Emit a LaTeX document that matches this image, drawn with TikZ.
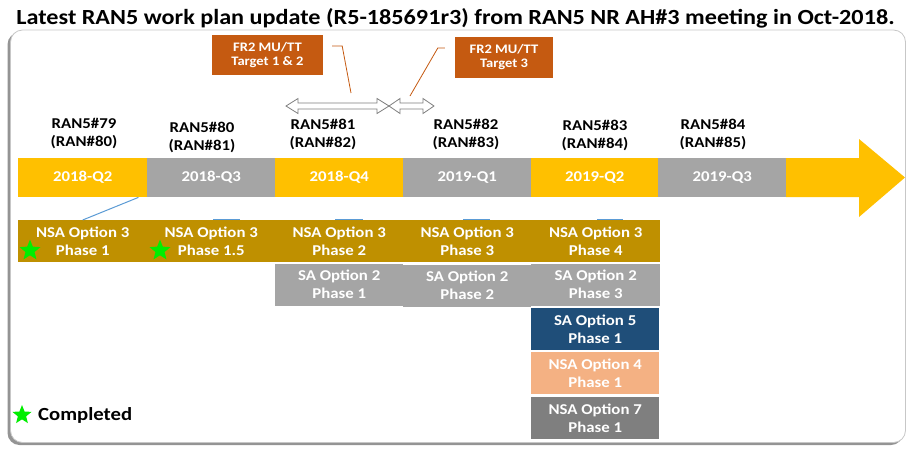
\documentclass[tikz,border=0pt]{standalone}
\usepackage{fontspec}
\setmainfont{Carlito}[FakeStretch=1.12]
\usetikzlibrary{shapes.geometric}

\definecolor{qyellow}{HTML}{FFC000}
\definecolor{qgray}{HTML}{A5A5A5}
\definecolor{olive}{HTML}{BF9000}
\definecolor{rust}{HTML}{C55A11}
\definecolor{navyfive}{HTML}{1F4E79}
\definecolor{peach}{HTML}{F4B183}
\definecolor{dgray}{HTML}{7F7F7F}
\definecolor{linkblue}{HTML}{5B9BD5}
\definecolor{stargreen}{HTML}{00EE00}

\begin{document}
\begin{tikzpicture}[x=1pt,y=-1pt,
  every node/.style={font=\bfseries},
  seg/.style={rectangle, anchor=north west, inner sep=0pt, minimum height=39pt,
    text=white, font=\bfseries\fontsize{15}{18}\selectfont},
  item/.style={rectangle, anchor=north west, inner sep=0pt, minimum height=42pt,
    align=center, text=white, font=\bfseries\fontsize{15}{18}\selectfont},
  meet/.style={align=center, text=black, font=\bfseries\fontsize{15}{18}\selectfont},
  target/.style={rectangle, fill=rust, inner sep=0pt, align=center, text=white,
    font=\bfseries\fontsize{13}{14}\selectfont},
  span/.style={draw=dgray, fill=white, line width=0.8pt, line join=miter},
  callout/.style={draw=rust, line width=0.8pt},
  link/.style={draw=linkblue, line width=1pt},
  done/.style={star, star points=5, star point ratio=2.3, fill=stargreen,
    inner sep=0pt, minimum size=22pt}
]
\useasboundingbox (0,0) rectangle (908,448);

% heading
\node[font=\bfseries\fontsize{21.6}{24}\selectfont] (title) at (455.5,18)
  {Latest RAN5 work plan update (R5-185691r3) from RAN5 NR AH\#3 meeting in Oct-2018.};

% panel with a soft shadow on the left and bottom
\fill[black!42, rounded corners=12pt] (7.5,32.5) rectangle (903,445);
\filldraw[fill=white, draw=black!22, line width=0.8pt, rounded corners=12pt]
  (10.5,30) rectangle (905.5,442.5);

% quarter timeline
\node[seg, fill=qyellow, minimum width=129pt] (t1) at (18,158)  {2018-Q2};
\node[seg, fill=qgray,   minimum width=128pt] (t2) at (147,158) {2018-Q3};
\node[seg, fill=qyellow, minimum width=128pt] (t3) at (275,158) {2018-Q4};
\node[seg, fill=qgray,   minimum width=128pt] (t4) at (403,158) {2019-Q1};
\node[seg, fill=qyellow, minimum width=127pt] (t5) at (531,158) {2019-Q2};
\node[seg, fill=qgray,   minimum width=128pt] (t6) at (658,158) {2019-Q3};
\fill[qyellow] (786,158) -- (859,158) -- (859,139) -- (905,177.5)
  -- (859,217) -- (859,197) -- (786,197) -- cycle;

% meetings
\node[meet] (m1) at (84,134)    {RAN5\#79\\(RAN\#80)};
\node[meet] (m2) at (202,137)   {RAN5\#80\\(RAN\#81)};
\node[meet] (m3) at (323,134.5) {RAN5\#81\\(RAN\#82)};
\node[meet] (m4) at (466,134.5) {RAN5\#82\\(RAN\#83)};
\node[meet] (m5) at (595,135)   {RAN5\#83\\(RAN\#84)};
\node[meet] (m6) at (713,134)   {RAN5\#84\\(RAN\#85)};

% FR2 targets
\node[target, minimum width=111pt, minimum height=40pt] (fr1) at (267.5,55)
  {FR2 MU/TT\\Target 1 \& 2};
\node[target, minimum width=98pt, minimum height=41pt] (fr2) at (504,57.5)
  {FR2 MU/TT\\Target 3};

% double-headed spans
\draw[span] (286,106) -- (298,98.5) -- (298,103) -- (377,103) -- (377,98.5)
  -- (389,106) -- (377,113.5) -- (377,109) -- (298,109) -- (298,113.5) -- cycle;
\draw[span] (389,106) -- (400,98.5) -- (400,103) -- (423,103) -- (423,98.5)
  -- (434,106) -- (423,113.5) -- (423,109) -- (400,109) -- (400,113.5) -- cycle;
\coordinate (k1) at (351,93);
\coordinate (k2) at (410,96);
\draw[callout] ([xshift=9pt,yshift=9pt]fr1.east) -- ++(10,0) -- (k1);
\draw[callout] ([xshift=-10pt,yshift=9.5pt]fr2.west) -- ++(-7,0) -- (k2);

% blue link marks behind the first row
\draw[link, line width=1.6pt] (213,219.4) -- (240,219.4);
\draw[link, line width=1.6pt] (335,219.4) -- (363,219.4);
\draw[link, line width=1.6pt] (463,219.4) -- (490,219.4);
\draw[link, line width=1.6pt] (597,219.4) -- (623,219.4);

% NSA option 3 phases
\node[item, fill=olive, minimum width=129pt] (r1) at (18,220)  {NSA Option 3\\Phase 1};
\node[item, fill=olive, minimum width=128pt] (r2) at (147,220) {NSA Option 3\\Phase 1.5};
\node[item, fill=olive, minimum width=128pt] (r3) at (275,220) {NSA Option 3\\Phase 2};
\node[item, fill=olive, minimum width=128pt] (r4) at (403,220) {NSA Option 3\\Phase 3};
\node[item, fill=olive, minimum width=129pt] (r5) at (531,220) {NSA Option 3\\Phase 4};
\draw[link] ([xshift=-9pt]t1.south east) -- (r1.north);

% SA option 2 phases
\node[item, fill=qgray, minimum width=128pt] (s1) at (275,263.5) {SA Option 2\\Phase 1};
\node[item, fill=qgray, minimum width=128pt] (s2) at (403,264.5) {SA Option 2\\Phase 2};
\node[item, fill=qgray, minimum width=129pt] (s3) at (531,263.5) {SA Option 2\\Phase 3};

% further options
\node[item, fill=navyfive, minimum width=128pt] (o5) at (531,308) {SA Option 5\\Phase 1};
\node[item, fill=peach,    minimum width=128pt] (o4) at (531,352) {NSA Option 4\\Phase 1};
\node[item, fill=dgray,    minimum width=128pt] (o7) at (531,397) {NSA Option 7\\Phase 1};

% completion marks and legend
\node[done] (d1) at (30,250.5) {};
\node[done] (d2) at (160,250.5) {};
\node[done, minimum size=20pt] (d0) at (22,415) {};
\node[anchor=west, inner sep=0pt, font=\bfseries\fontsize{18.5}{20}\selectfont] (legend)
  at (38,415) {Completed};
\end{tikzpicture}
\end{document}
